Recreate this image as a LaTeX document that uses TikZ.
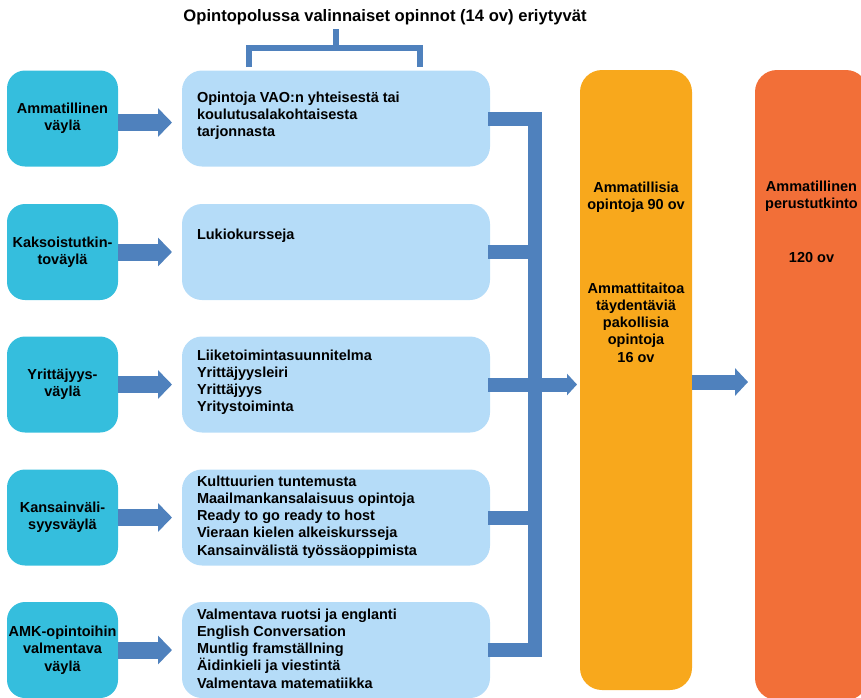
\documentclass[tikz,border=0pt]{standalone}
\usepackage{fontspec}
\setmainfont{Liberation Sans}
\usetikzlibrary{arrows.meta}
\definecolor{cyanbox}{HTML}{35BEDD}
\definecolor{lightbox}{HTML}{B5DCF8}
\definecolor{orangecol}{HTML}{F8A81C}
\definecolor{redcol}{HTML}{F26F38}
\definecolor{barblue}{HTML}{4F81BD}
\begin{document}
\begin{tikzpicture}[x=1pt,y=-1pt,
  every node/.style={inner sep=0pt, outer sep=0pt},
  txt/.style={font=\fontsize{14.5}{17.3}\selectfont\bfseries},
  pathbox/.style={fill=cyanbox, rounded corners=18pt, minimum width=111pt, minimum height=96pt, txt, align=center},
  coursebox/.style={fill=lightbox, rounded corners=20pt, minimum width=308pt, minimum height=96pt},
  coursetext/.style={txt, align=left, anchor=base west},
  column/.style={rounded corners=22pt, minimum width=112pt, txt, align=center},
  bigarrow/.style={barblue, line width=17pt, -{Triangle[length=14pt,width=28pt]}, shorten >=10pt},
  bar/.style={barblue, line width=14pt, line join=miter},
  bracestyle/.style={barblue, line width=6pt, line join=miter}
]
\useasboundingbox (0,0) rectangle (861,697);

% title and brace
\node[txt, font=\fontsize{16.6}{19}\selectfont\bfseries, anchor=base] (title) at (385,21) {Opintopolussa valinnaiset opinnot (14 ov) eriytyvät};
\coordinate (bl) at (249,67);
\coordinate (br) at (420,67);
\coordinate (bm) at (336,48);
\coordinate (bs) at (336,29);
\draw[bracestyle] (bl) -- (bl |- bm) -- (br |- bm) -- (br);
\draw[bracestyle] (bm) -- (bs);

% left path boxes
\node[pathbox] (l1) at (62.5,118.5) {Ammatillinen\\väylä};
\node[pathbox] (l2) at (62.5,252) {Kaksoistutkin-\\toväylä};
\node[pathbox] (l3) at (62.5,384.5) {Yrittäjyys-\\väylä};
\node[pathbox] (l4) at (62.5,517.5) {Kansainväli-\\syysväylä};
\node[pathbox] (l5) at (62.5,650) {AMK-opintoihin\\valmentava\\väylä};

% course boxes
\node[coursebox] (m1) at (336,118.5) {};
\node[coursebox] (m2) at (336,252) {};
\node[coursebox] (m3) at (336,384.5) {};
\node[coursebox] (m4) at (336,517.5) {};
\node[coursebox] (m5) at (336,650) {};

% text nodes: base anchor = baseline of the last line
\node[coursetext] (t1) at (197,136.6) {Opintoja VAO:n yhteisestä tai\\koulutusalakohtaisesta\\tarjonnasta};
\node[coursetext] (t2) at (197,239) {Lukiokursseja};
\node[coursetext] (t3) at (197,411.9) {Liiketoimintasuunnitelma\\Yrittäjyysleiri\\Yrittäjyys\\Yritystoiminta};
\node[coursetext] (t4) at (197,555.2) {Kulttuurien tuntemusta\\Maailmankansalaisuus opintoja\\Ready to go ready to host\\Vieraan kielen alkeiskursseja\\Kansainvälistä työssäoppimista};
\node[coursetext] (t5) at (197,688.2) {Valmentava ruotsi ja englanti\\English Conversation\\Muntlig framställning\\Äidinkieli ja viestintä\\Valmentava matematiikka};

% columns
\node[column, fill=orangecol, minimum height=620pt] (o) at (636,380) {};
\node[column, fill=redcol, minimum width=113pt, minimum height=630pt] (r) at (811.5,385) {};
\node[txt, align=center, anchor=base] (o1) at (636,209.3) {Ammatillisia\\opintoja 90 ov};
\node[txt, align=center, anchor=base] (o2) at (636,362.2) {Ammattitaitoa\\täydentäviä\\pakollisia\\opintoja\\16 ov};
\node[txt, align=center, anchor=base] (r1) at (811.5,208.3) {Ammatillinen\\perustutkinto};
\node[txt, anchor=base] (r2) at (811.5,262) {120 ov};

% arrows from paths to courses
\draw[bigarrow] ([yshift=-4pt]l1.east) -- ([yshift=-4pt]m1.west);
\draw[bigarrow] (l2.east) -- (m2.west);
\draw[bigarrow] (l3.east) -- (m3.west);
\draw[bigarrow] (l4.east) -- (m4.west);
\draw[bigarrow] (l5.east) -- (m5.west);

% collecting bar
\draw[bar] ([xshift=-2pt]m1.east) -- ++(47,0) coordinate (bt) -- (bt |- m5.east) -- ([xshift=-2pt]m5.east);
\draw[bar] ([xshift=-2pt]m2.east) -- (bt |- m2.east);
\draw[bar] ([xshift=-2pt]m4.east) -- (bt |- m4.east);
\draw[bar] ([xshift=-2pt]m3.east) -- (bt |- m3.east);
\draw[barblue, line width=14pt, -{Triangle[length=10pt,width=21pt]}, shorten >=3pt] (bt |- m3.east) -- (o.west |- m3.east);

% arrow to degree
\draw[barblue, line width=15pt, -{Triangle[length=13pt,width=27pt]}, shorten >=7pt] ([yshift=-2pt]o.east) -- ([yshift=-2pt]o.east -| r.west);
\end{tikzpicture}
\end{document}
